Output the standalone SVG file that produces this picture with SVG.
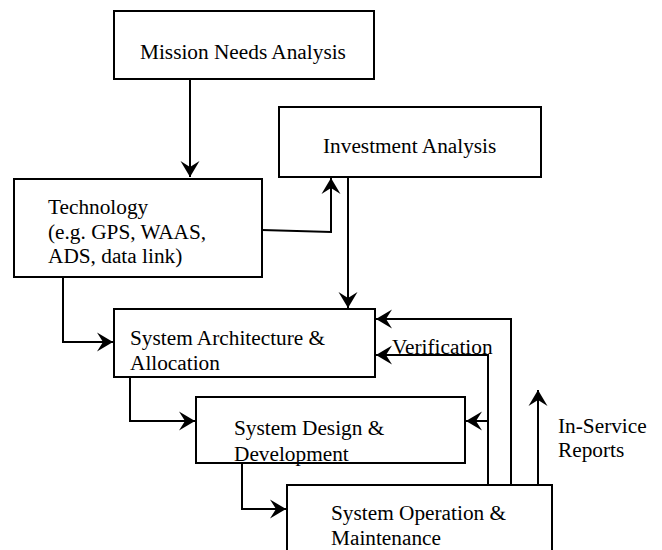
<svg xmlns="http://www.w3.org/2000/svg" width="662" height="550" viewBox="0 0 662 550">
<style>
.box{fill:#fff;stroke:#000;stroke-width:2}
.t{font-family:"Liberation Serif","Times New Roman",serif;font-size:21.3px;fill:#000}
.c{fill:none;stroke:#000;stroke-width:2}
</style>
<defs>
<marker id="a" markerUnits="userSpaceOnUse" markerWidth="20" markerHeight="22" viewBox="-17 -11 19 22" refX="0" refY="0" orient="auto">
<path d="M0,0 L-16,-9.5 L-10,0 L-16,9.5 Z" fill="#000"/>
</marker>
</defs>
<rect width="662" height="550" fill="#fff"/>
<g id="mission">
<rect class="box" x="114" y="11" width="260" height="68"/>
<text class="t" x="140" y="59">Mission Needs Analysis</text>
</g>
<g id="investment">
<rect class="box" x="279" y="107" width="262" height="70"/>
<text class="t" x="323" y="153">Investment Analysis</text>
</g>
<g id="technology">
<rect class="box" x="14" y="179" width="248" height="98"/>
<text class="t" x="48" y="214">Technology</text>
<text class="t" x="48" y="238.5">(e.g. GPS, WAAS,</text>
<text class="t" x="48" y="263">ADS, data link)</text>
</g>
<g id="architecture">
<rect class="box" x="114" y="309" width="261" height="68"/>
<text class="t" x="130" y="345">System Architecture &amp;</text>
<text class="t" x="130" y="370">Allocation</text>
</g>
<g id="design">
<rect class="box" x="196" y="397" width="269" height="66"/>
<text class="t" x="234" y="435">System Design &amp;</text>
<text class="t" x="234" y="461">Development</text>
</g>
<g id="operation">
<rect class="box" x="287" y="485" width="265" height="80"/>
<text class="t" x="331" y="520">System Operation &amp;</text>
<text class="t" x="331" y="545">Maintenance</text>
</g>
<g id="connectors">
<path class="c" d="M190,79 V177" marker-end="url(#a)"/>
<path class="c" d="M262,230 L331,232 V178" marker-end="url(#a)"/>
<path class="c" d="M348,177 V308" marker-end="url(#a)"/>
<path class="c" d="M63,277 V342 H113" marker-end="url(#a)"/>
<path class="c" d="M130,377 V421 H195" marker-end="url(#a)"/>
<path class="c" d="M242,463 V509 H286" marker-end="url(#a)"/>
<path class="c" d="M511,485 V319 H376" marker-end="url(#a)"/>
<path class="c" d="M488,485 V355 H376" marker-end="url(#a)"/>
<path class="c" d="M488,421 H466" marker-end="url(#a)"/>
<path class="c" d="M538,485 V390" marker-end="url(#a)"/>
</g>
<g id="labels">
<text class="t" x="392" y="354">Verification</text>
<text class="t" x="558" y="433">In-Service</text>
<text class="t" x="558" y="457">Reports</text>
</g>
</svg>
